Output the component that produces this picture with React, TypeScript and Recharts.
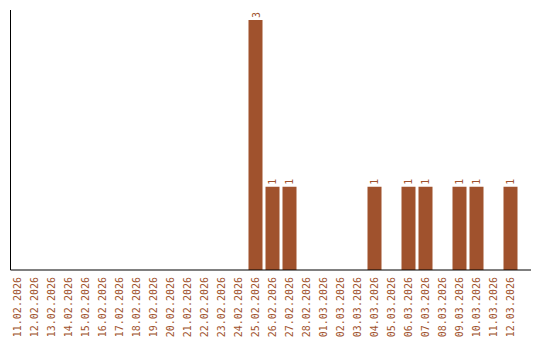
import { BarChart, Bar, XAxis, YAxis, LabelList } from "recharts"

const DATES = [
  "11.02.2026", "12.02.2026", "13.02.2026", "14.02.2026", "15.02.2026",
  "16.02.2026", "17.02.2026", "18.02.2026", "19.02.2026", "20.02.2026",
  "21.02.2026", "22.02.2026", "23.02.2026", "24.02.2026", "25.02.2026",
  "26.02.2026", "27.02.2026", "28.02.2026", "01.03.2026", "02.03.2026",
  "03.03.2026", "04.03.2026", "05.03.2026", "06.03.2026", "07.03.2026",
  "08.03.2026", "09.03.2026", "10.03.2026", "11.03.2026", "12.03.2026",
]
const COUNTS = [0, 0, 0, 0, 0, 0, 0, 0, 0, 0, 0, 0, 0, 0, 3, 1, 1, 0, 0, 0, 0, 1, 0, 1, 1, 0, 1, 1, 0, 1]

const COLOR = "#a0522d"
const FONT = "'DejaVu Sans Mono', 'Liberation Mono', monospace"

function DateTick({ x, y, payload }: any) {
  const tx = x + 4
  const ty = y + 7
  return (
    <text
      x={tx}
      y={ty}
      transform={`rotate(-90, ${tx}, ${ty})`}
      textAnchor="end"
      fill={COLOR}
      fontSize={10}
      fontFamily={FONT}
    >
      {payload.value}
    </text>
  )
}

function ValueLabel({ x, y, width, value }: any) {
  // zero bars get no label
  if (!value) return null
  const tx = x + width / 2 + 4
  const ty = y - 2
  return (
    <text
      x={tx}
      y={ty}
      transform={`rotate(-90, ${tx}, ${ty})`}
      textAnchor="start"
      fill={COLOR}
      fontSize={10}
      fontFamily={FONT}
    >
      {value}
    </text>
  )
}

export default function App() {
  const rows = DATES.map((d, i) => ({ date: d, count: COUNTS[i] }))

  return (
    <div style={{ position: "absolute", left: 0, top: 0, width: 540, height: 340 }}>
      <BarChart
        width={540}
        height={340}
        data={rows}
        margin={{ top: 10, right: 9, bottom: 2, left: 9.5 }}
        barSize={14}
      >
        <XAxis
          dataKey="date"
          interval={0}
          height={68}
          tickLine={false}
          tickSize={0}
          tickMargin={0}
          axisLine={{ stroke: "#000" }}
          padding={{ left: -2, right: 12.5 }}
          tick={<DateTick />}
        />
        <YAxis
          width={1}
          domain={[0, 3.12]}
          allowDataOverflow
          tick={false}
          tickLine={false}
          axisLine={{ stroke: "#000" }}
        />
        <Bar dataKey="count" fill={COLOR} isAnimationActive={false}>
          <LabelList dataKey="count" content={<ValueLabel />} />
        </Bar>
      </BarChart>
    </div>
  )
}
